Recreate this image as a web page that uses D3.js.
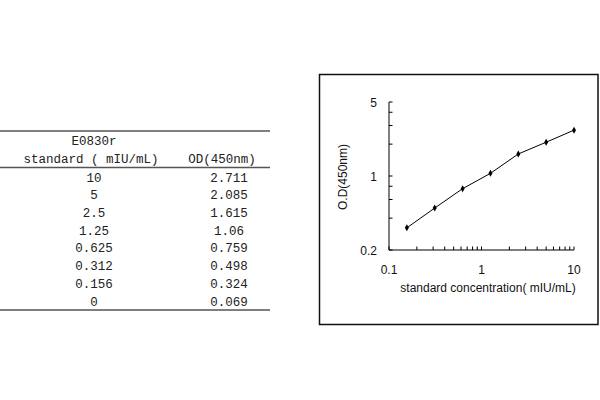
<!DOCTYPE html>
<html><head><meta charset="utf-8">
<script src="https://cdn.jsdelivr.net/npm/d3@7"></script>
<style>body{margin:0;background:#fff}svg{display:block}</style>
</head><body>
<script>
const concLabels = ["10","5","2.5","1.25","0.625","0.312","0.156","0"];
const odLabels = ["2.711","2.085","1.615","1.06","0.759","0.498","0.324","0.069"];
const conc = [10,5,2.5,1.25,0.625,0.312,0.156,0];
const od = [2.711,2.085,1.615,1.06,0.759,0.498,0.324,0.069];
const xTicks = [0.1,1,10];
const yTicks = [0.2,1,5];
const yMinor = [0.2,0.4,0.6,0.8,1,2,3,4,5];
const xMinor = [0.1,0.2,0.3,0.4,0.5,0.6,0.7,0.8,0.9,1,2,3,4,5,6,7,8,9,10];

const svg = d3.select("body").append("svg").attr("width",600).attr("height",400);

// Table
const tf = "'Liberation Mono', monospace";
const tbl = svg.append("g").attr("font-family",tf).attr("font-size","12.5px").attr("fill","#222");
[131,167.5,310].forEach((y,i)=>{
  tbl.append("line").attr("x1",0).attr("x2",270).attr("y1",y).attr("y2",y)
    .attr("stroke","#555").attr("stroke-width",i===1?1.5:1.5);
});
tbl.append("text").attr("x",94).attr("y",145).attr("text-anchor","middle").text("E0830r");
tbl.append("text").attr("x",91).attr("y",163).attr("text-anchor","middle").text("standard ( mIU/mL)");
tbl.append("text").attr("x",222).attr("y",163).attr("text-anchor","middle").text("OD(450nm)");
const rowY = d3.scaleLinear().domain([0,7]).range([177,301]);
concLabels.forEach((c,i)=>{
  tbl.append("text").attr("x",94).attr("y",rowY(i)+4.5).attr("text-anchor","middle").text(c);
  tbl.append("text").attr("x",229).attr("y",rowY(i)+4.5).attr("text-anchor","middle").text(odLabels[i]);
});

// Chart frame
svg.append("rect").attr("x",319.5).attr("y",74.5).attr("width",278.5).attr("height",250)
  .attr("fill","none").attr("stroke","#111").attr("stroke-width",1.5);

const x = d3.scaleLog().domain([0.1,10]).range([389,574]);
const y = d3.scaleLog().domain([0.2,5]).range([250,102]);
const cf = "'Liberation Sans', Arial, sans-serif";
const g = svg.append("g").attr("font-family",cf).attr("font-size","12px");

// axes lines
g.append("line").attr("x1",x(0.1)).attr("x2",x(10)).attr("y1",y(0.2)).attr("y2",y(0.2)).attr("stroke","#000");
g.append("line").attr("x1",x(0.1)).attr("x2",x(0.1)).attr("y1",y(0.2)).attr("y2",y(5)).attr("stroke","#000");
xMinor.forEach(v=>{
  g.append("line").attr("x1",x(v)).attr("x2",x(v)).attr("y1",y(0.2)).attr("y2",y(0.2)-3.5).attr("stroke","#000");
});
yMinor.forEach(v=>{
  g.append("line").attr("x1",x(0.1)).attr("x2",x(0.1)+3.5).attr("y1",y(v)).attr("y2",y(v)).attr("stroke","#000");
});
xTicks.forEach(v=>{
  g.append("text").attr("x",x(v)).attr("y",274).attr("text-anchor","middle").attr("fill","#111").text(String(v));
});
yTicks.forEach(v=>{
  g.append("text").attr("x",377).attr("y",y(v)+4.5).attr("text-anchor","end").attr("fill","#111").text(String(v));
});
g.append("text").attr("x",488).attr("y",292).attr("text-anchor","middle").attr("fill","#111").text("standard concentration( mIU/mL)");
g.append("text").attr("transform","translate(347,177) rotate(-90)").attr("text-anchor","middle").attr("fill","#111").text("O.D(450nm)");

// data
const pts = conc.map((c,i)=>({c,v:od[i]})).filter(d=>d.c>0);
g.append("path").datum(pts).attr("fill","none").attr("stroke","#000").attr("stroke-width",1)
  .attr("d",d3.line().x(d=>x(d.c)).y(d=>y(d.v)));
g.selectAll("path.m").data(pts).enter().append("path").attr("class","m")
  .attr("transform",d=>`translate(${x(d.c)},${y(d.v)})`)
  .attr("d",d3.symbol(d3.symbolDiamond,14)).attr("fill","#000");
</script>
</body></html>
